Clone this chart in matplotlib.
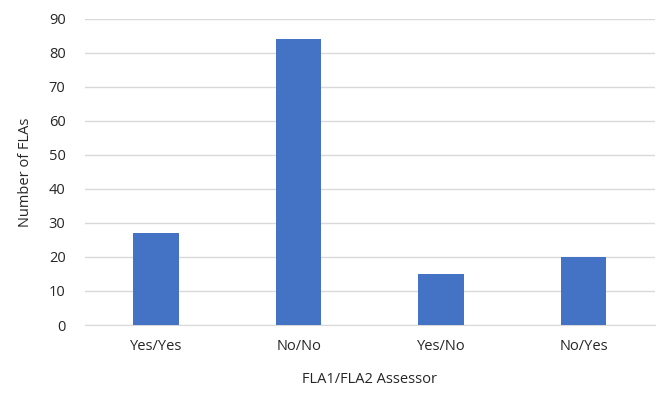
import matplotlib
matplotlib.use("Agg")
import matplotlib.pyplot as plt
import numpy as np

categories = ["Yes/Yes", "No/No", "Yes/No", "No/Yes"]
counts = [27, 84, 15, 20]
y_ticks = [0, 10, 20, 30, 40, 50, 60, 70, 80, 90]

plt.rcParams['font.family'] = ['Open Sans', 'DejaVu Sans']

fig = plt.figure(figsize=(6.61, 3.93), dpi=100)
ax = fig.add_axes([0.1286, 0.173, 0.862, 0.779])

x = np.arange(len(categories))
ax.bar(x, counts, 0.32, color='#4472C4', zorder=3)

ax.set_xlim(-0.5, len(categories) - 0.5)
ax.set_ylim(0, 90)
ax.set_yticks(y_ticks)
ax.set_xticks(x)
ax.set_xticklabels(categories)
ax.yaxis.grid(True, color='#d9d9d9', linewidth=1, zorder=0)
for side in ['top', 'right', 'left']:
    ax.spines[side].set_visible(False)
ax.spines['bottom'].set_color('#d9d9d9')
ax.tick_params(axis='both', length=0, labelsize=10.5, colors='#262626')
ax.tick_params(axis='x', pad=10)
ax.tick_params(axis='y', pad=14)

ax.set_xlabel('FLA1/FLA2 Assessor', fontsize=10.5, color='#262626', labelpad=13)
ax.set_ylabel('Number of FLAs', fontsize=10.5, color='#262626', labelpad=11)

fig.savefig('out.png', dpi=100)
